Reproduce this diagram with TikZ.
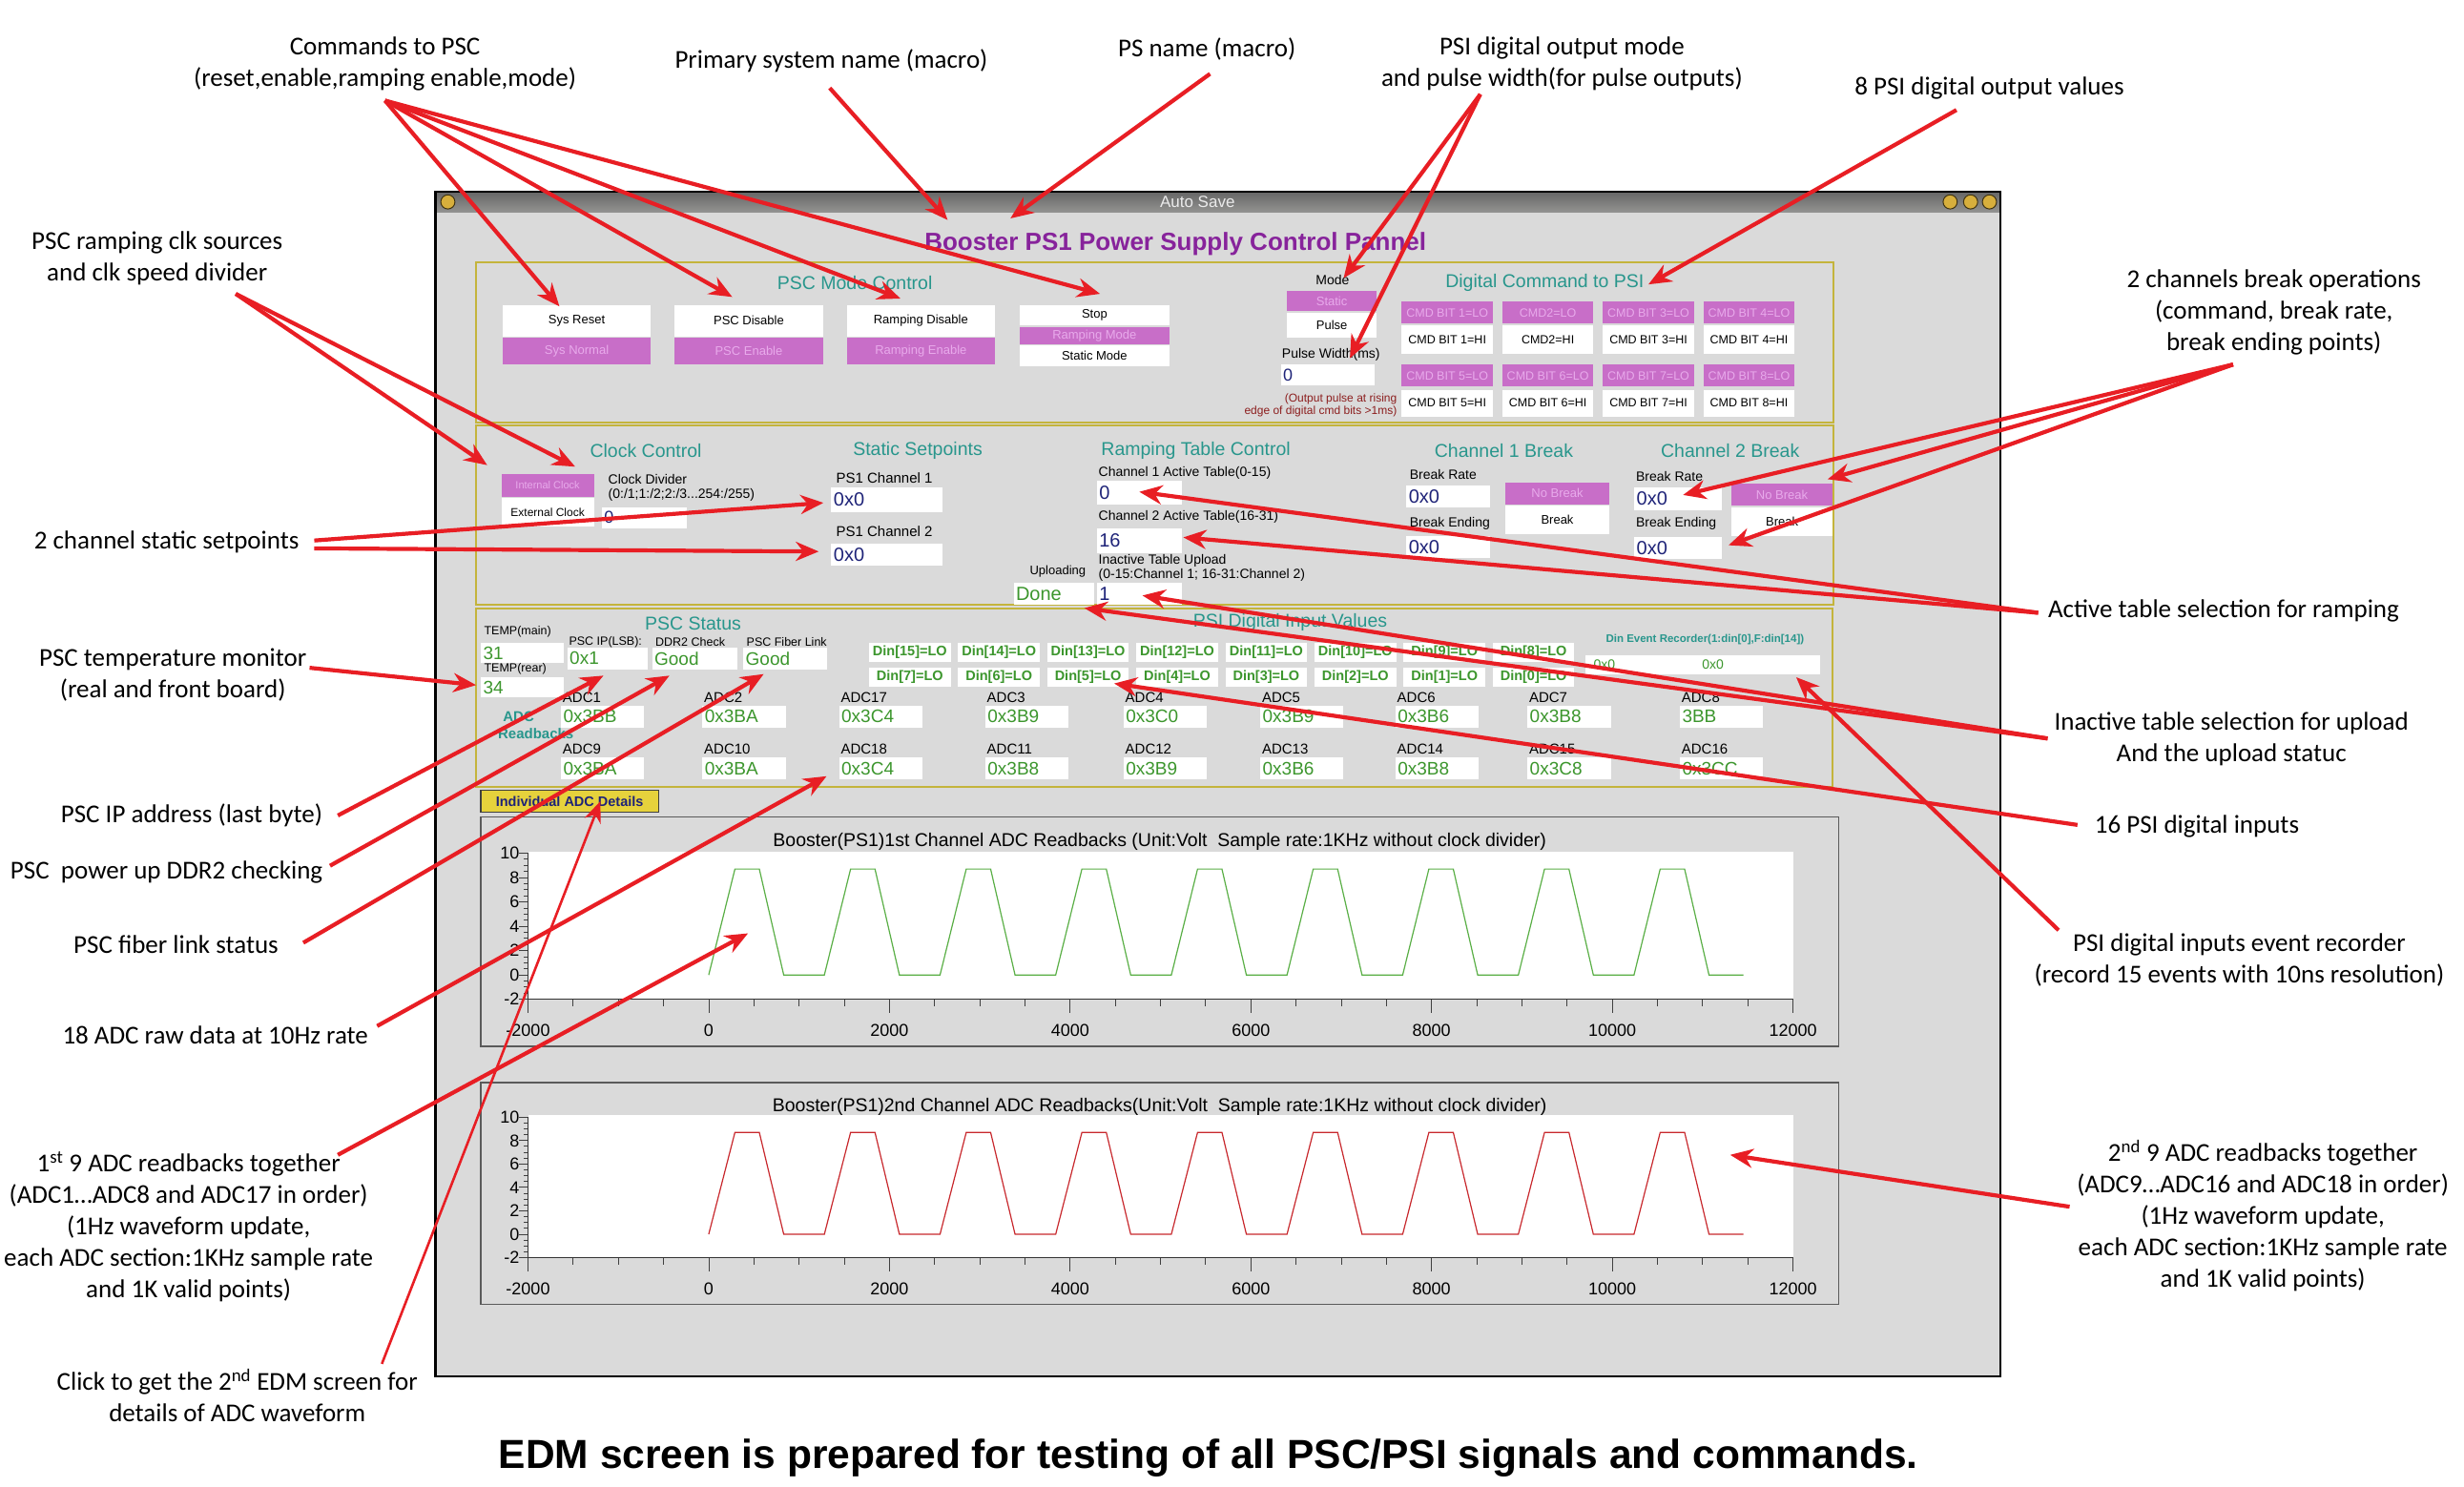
\documentclass[tikz,border=0pt]{standalone}
\usepackage{fontspec}
\setmainfont{Liberation Sans}
\newfontfamily\annfont{Carlito}
\usetikzlibrary{arrows.meta}

\definecolor{winbg}{RGB}{218,218,218}
\definecolor{titlegray}{RGB}{128,128,126}
\definecolor{sectyellow}{RGB}{196,180,60}
\definecolor{headteal}{RGB}{40,150,140}
\definecolor{btnpurple}{RGB}{200,110,200}
\definecolor{btntext}{RGB}{232,170,235}
\definecolor{navyval}{RGB}{30,35,120}
\definecolor{greenval}{RGB}{60,150,45}
\definecolor{titlepurple}{RGB}{135,35,155}
\definecolor{arrred}{RGB}{232,30,36}
\definecolor{notered}{RGB}{140,30,30}
\definecolor{btngold}{RGB}{215,175,60}
\definecolor{detailgold}{RGB}{230,210,60}
\definecolor{plotgreen}{RGB}{90,175,70}
\definecolor{plotred}{RGB}{200,40,45}
\definecolor{framec}{RGB}{90,90,90}

\newcommand\fsz[2]{\fontsize{#1}{#2}\selectfont}
\def\upx{1.6474}
% box given by its corners, text centred
\newcommand\ebox[7]{%
  \pgfmathsetmacro\bxw{(#4-#2)*\upx}%
  \pgfmathsetmacro\bxh{(#5-#3)*\upx}%
  \node[#6, minimum width=\bxw pt, minimum height=\bxh pt, inner sep=0pt]
    (#1) at ({(#2+#4)/2},{(#3+#5)/2}) {#7};}
% box given by its corners, text flush left
\newcommand\lbox[7]{%
  \pgfmathsetmacro\bxw{(#4-#2)*\upx}%
  \pgfmathsetmacro\bxh{(#5-#3)*\upx}%
  \pgfmathsetmacro\bxt{\bxw-5}%
  \node[#6, minimum width=\bxw pt, minimum height=\bxh pt, inner xsep=2.5pt,
    inner ysep=0pt, text width=\bxt pt, align=left]
    (#1) at ({(#2+#4)/2},{(#3+#5)/2}) {#7};}
% waveform chart: name, frame top, frame bottom, y of 0 V, px per volt, colour, title
\newcommand\adcplot[7]{%
  \draw[framec, line width=1.5pt, fill=winbg] (306,#2) rectangle (1170,#3);
  \node[plottitle] (#1title) at (738,#2+15.5) {#7};
  \pgfmathsetmacro\plotvs{#5*\upx}%
  \begin{scope}[shift={(451,#4)}, x=0.094726pt, y=\plotvs pt]
    \fill[white] (-2000,-2) rectangle (12000,10.15);
    \foreach \tk in {-2000,-1500,...,12000}
      \draw[black!75, line width=0.9pt] (\tk,-2) -- ++(0pt,-7pt);
    \foreach \tk [count=\n] in {-2000,0,...,12000} {
      \draw[black!75, line width=0.9pt] (\tk,-2) -- ++(0pt,-14pt);
      \node[axlbl, yshift=-33pt] (#1x\n) at (\tk,-2) {\tk};}
    \foreach \vv in {-2,-1.5,...,10}
      \draw[black!75, line width=0.9pt] (-2000,\vv) -- ++(-5pt,0pt);
    \foreach \vv [count=\n] in {-2,0,...,10} {
      \draw[black!75, line width=0.9pt] (-2000,\vv) -- ++(-10pt,0pt);
      \node[axlbl, anchor=east, xshift=-9pt] (#1y\n) at (-2000,\vv) {\vv};}
    \draw[black!80, line width=1.4pt] (-2000,10) -- (-2000,-2) -- (12000,-2);
    \draw[#6, line width=1.2pt] (0,0)
      \foreach \k in {0,...,8} {
        -- ({1280*\k},0) -- ({1280*\k+290},8.7) -- ({1280*\k+560},8.7)
        -- ({1280*\k+830},0) } -- (11450,0);
  \end{scope}}

\begin{document}
\begin{tikzpicture}[x=1.6474pt, y=-1.6474pt,
  lbl/.style={font=\fsz{14}{16}, inner sep=0pt, text=black},
  tiny/.style={font=\fsz{12.5}{14}, inner sep=0pt, text=black},
  head/.style={font=\fsz{19.5}{22}, text=headteal, inner sep=0pt},
  sect/.style={draw=sectyellow, line width=2pt},
  btnw/.style={fill=white, font=\fsz{13}{15}, text=black},
  btnp/.style={fill=btnpurple, font=\fsz{13}{15}, text=btntext},
  cmdw/.style={fill=white, font=\fsz{12.5}{14}, text=black},
  cmdp/.style={fill=btnpurple, font=\fsz{12.5}{14}, text=btntext},
  navybox/.style={fill=white, font=\fsz{20}{22}, text=navyval},
  greenbox/.style={fill=white, font=\fsz{19}{21}, text=greenval},
  dinbox/.style={fill=white, font=\bfseries\fsz{14.5}{16}, text=greenval},
  plottitle/.style={font=\fsz{19.5}{22}, inner sep=0pt},
  axlbl/.style={font=\fsz{18}{20}, inner sep=0pt},
  ann/.style={font=\annfont\fsz{27}{33}, align=center, inner sep=0pt},
  arr/.style={draw=arrred, line width=4.2pt, -{Stealth[length=24pt,width=20pt]}},
  arrthin/.style={draw=arrred, line width=2.6pt, -{Stealth[length=22pt,width=18pt]}},
  wbtn/.style={fill=btngold, draw=black!70!btngold, line width=1pt}]

\useasboundingbox (0,0) rectangle (1568,946);
\fill[white] (0,0) rectangle (1568,946);

% ---------- EDM window ----------
\fill[winbg] (277,122) rectangle (1273,876);
\shade[top color=black!60, bottom color=titlegray!85] (277,122) rectangle (1273,135);
\node[font=\fsz{17}{19}, text=white!92!black, inner sep=0pt] (autosave) at (762,128.5) {Auto Save};
\filldraw[wbtn] (285,128.5) circle (4.5);
\filldraw[wbtn] (1241,128.5) circle (4.5);
\filldraw[wbtn] (1254,128.5) circle (4.5);
\filldraw[wbtn] (1266,128.5) circle (4.5);
\draw[black, line width=2.5pt] (277,122) rectangle (1273,876);

\node[font=\bfseries\fsz{26}{30}, text=titlepurple, inner sep=0pt] (title) at (748,155)
  {Booster PS1 Power Supply Control Pannel};

% ---------- mode control and digital commands ----------
\draw[sect] (303,167) rectangle (1167,269);
\node[head] (hMode) at (544,180) {PSC Mode Control};
\ebox{sysreset}{320}{194}{414}{214}{btnw}{Sys Reset}
\ebox{sysnormal}{320}{215}{414}{232}{btnp}{Sys Normal}
\ebox{pscdis}{429}{194}{524}{214}{btnw}{PSC Disable}
\ebox{pscen}{429}{215}{524}{232}{btnp}{PSC Enable}
\ebox{rampdis}{539}{194}{633}{214}{btnw}{Ramping Disable}
\ebox{rampen}{539}{215}{633}{232}{btnp}{Ramping Enable}
\ebox{stop}{649}{194}{744}{207}{btnw}{Stop}
\ebox{rampmode}{649}{208}{744}{219}{btnp}{Ramping Mode}
\ebox{staticmode}{649}{220}{744}{233}{btnw}{Static Mode}

\node[lbl] (lMode) at (848,178) {Mode};
\ebox{mstatic}{819}{185}{876}{198}{btnp}{Static}
\ebox{mpulse}{819}{199}{876}{215}{btnw}{Pulse}
\node[lbl] (lPW) at (847,226) {Pulse Width(ms)};
\lbox{pwval}{815}{232}{875}{245}{navybox, font=\fsz{18}{20}}{0}
\node[font=\fsz{12}{14}, text=notered, inner sep=0pt, anchor=east] (note1) at (889,254) {(Output pulse at rising};
\node[font=\fsz{12}{14}, text=notered, inner sep=0pt, anchor=east] (note2) at (889,262) {edge of digital cmd bits >1ms)};

\node[head] (hCmd) at (983,180) {Digital Command to PSI};
\foreach \xl/\tl/\th/\bl/\bh [count=\n] in
  {892/CMD BIT 1=LO/CMD BIT 1=HI/CMD BIT 5=LO/CMD BIT 5=HI,
   956/CMD2=LO/CMD2=HI/CMD BIT 6=LO/CMD BIT 6=HI,
   1020/CMD BIT 3=LO/CMD BIT 3=HI/CMD BIT 7=LO/CMD BIT 7=HI,
   1084/CMD BIT 4=LO/CMD BIT 4=HI/CMD BIT 8=LO/CMD BIT 8=HI} {
  \ebox{cmdlo\n}{\xl}{192}{\xl+58}{206}{cmdp}{\tl}
  \ebox{cmdhi\n}{\xl}{207}{\xl+58}{225}{cmdw}{\th}
  \ebox{cmdlob\n}{\xl}{232}{\xl+58}{246}{cmdp}{\bl}
  \ebox{cmdhib\n}{\xl}{248}{\xl+58}{265}{cmdw}{\bh}
}

% ---------- clock, setpoints, ramping tables, breaks ----------
\draw[sect] (303,271) rectangle (1167,385);
\node[head] (hClk) at (411,287) {Clock Control};
\ebox{intclk}{319}{302}{378}{316}{btnp, font=\fsz{11}{13}}{Internal Clock}
\ebox{extclk}{319}{317}{378}{335}{btnw, font=\fsz{12}{14}}{External Clock}
\node[lbl, anchor=west] (lDiv) at (387,305) {Clock Divider};
\node[lbl, anchor=west] (lDiv2) at (387,315) {(0:/1;1:/2;2:/3...254:/255)};
\lbox{divval}{383}{323}{437}{336}{navybox, font=\fsz{18}{20}}{0}

\node[head] (hStat) at (584,287) {Static Setpoints};
\node[lbl, anchor=west, font=\fsz{15}{17}] (lCh1) at (532,304) {PS1 Channel 1};
\lbox{sp1}{529}{310}{600}{326}{navybox}{0x0}
\node[lbl, anchor=west, font=\fsz{15}{17}] (lCh2) at (532,338) {PS1 Channel 2};
\lbox{sp2}{529}{346}{600}{360}{navybox}{0x0}

\node[head] (hRamp) at (761,287) {Ramping Table Control};
\node[lbl, anchor=west] (lAct1) at (699,301) {Channel 1 Active Table(0-15)};
\lbox{act1}{698}{306}{752}{321}{navybox}{0}
\node[lbl, anchor=west] (lAct2) at (699,329) {Channel 2 Active Table(16-31)};
\lbox{act2}{698}{336}{752}{352}{navybox}{16}
\node[lbl, anchor=west] (lInact) at (699,357) {Inactive Table Upload};
\node[lbl, anchor=west] (lInact2) at (699,366) {(0-15:Channel 1; 16-31:Channel 2)};
\lbox{inact}{698}{371}{752}{385}{navybox}{1}
\node[lbl, anchor=east, font=\fsz{13}{15}] (lUpl) at (691,364) {Uploading};
\lbox{done}{645}{371}{696}{385}{greenbox, font=\fsz{20}{22}}{Done}

\node[head] (hBrk1) at (957,287) {Channel 1 Break};
\node[lbl, anchor=west] (lBr1) at (897,302) {Break Rate};
\lbox{br1}{895}{309}{948}{323}{navybox}{0x0}
\ebox{nobrk1}{958}{307}{1024}{321}{btnp}{No Break}
\ebox{brk1}{958}{322}{1024}{340}{btnw}{Break}
\node[lbl, anchor=west] (lBe1) at (897,333) {Break Ending};
\lbox{be1}{895}{341}{948}{355}{navybox}{0x0}

\node[head] (hBrk2) at (1101,287) {Channel 2 Break};
\node[lbl, anchor=west] (lBr2) at (1041,303) {Break Rate};
\lbox{br2}{1040}{310}{1096}{325}{navybox}{0x0}
\ebox{nobrk2}{1102}{308}{1166}{322}{btnp}{No Break}
\ebox{brk2}{1102}{323}{1166}{341}{btnw}{Break}
\node[lbl, anchor=west] (lBe2) at (1041,333) {Break Ending};
\lbox{be2}{1040}{342}{1096}{356}{navybox}{0x0}

% ---------- status, digital inputs, ADC readbacks ----------
\draw[sect] (303,387) rectangle (1166,501);
\node[head] (hPsc) at (441,397) {PSC Status};
\node[tiny, anchor=west] (lT1) at (308,402) {TEMP(main)};
\lbox{temp1}{306}{409}{359}{422}{greenbox}{31}
\node[tiny, anchor=west] (lT2) at (308,425.5) {TEMP(rear)};
\lbox{temp2}{306}{431}{359}{444}{greenbox}{34}
\node[tiny, anchor=west] (lIP) at (362,408.5) {PSC IP(LSB):};
\lbox{ipval}{361}{412}{412}{426}{greenbox}{0x1}
\node[tiny, anchor=west] (lDDR) at (417,408.5) {DDR2 Check};
\lbox{ddrval}{415}{412}{469}{426}{greenbox}{Good}
\node[tiny, anchor=west] (lFib) at (475,408.5) {PSC Fiber Link};
\lbox{fibval}{473}{412}{526}{426}{greenbox}{Good}

\node[head] (hDin) at (821,396) {PSI Digital Input Values};
\foreach \i [evaluate=\i as \xl using 553+56.7*\i,
             evaluate=\i as \hb using int(15-\i),
             evaluate=\i as \lb using int(7-\i)] in {0,...,7} {
  \ebox{dinh\i}{\xl}{409}{\xl+52}{421}{dinbox}{Din[\hb]=LO}
  \ebox{dinl\i}{\xl}{425}{\xl+52}{437}{dinbox}{Din[\lb]=LO}
}
\node[font=\bfseries\fsz{11.5}{13}, text=headteal, inner sep=0pt] (lEv) at (1085,407)
  {Din Event Recorder(1:din[0],F:din[14])};
\ebox{evrec}{1009}{417}{1158}{429}{fill=white}{}
\node[font=\fsz{14}{16}, text=greenval, inner sep=0pt, anchor=west] (ev1) at (1014,423) {0x0};
\node[font=\fsz{14}{16}, text=greenval, inner sep=0pt] (ev2) at (1090,423) {0x0};

\node[font=\bfseries\fsz{15}{17}, text=headteal, inner sep=0pt] (lAdc) at (330,456) {ADC};
\node[font=\bfseries\fsz{15}{17}, text=headteal, inner sep=0pt] (lRb) at (341,467) {Readbacks};
\foreach \xl/\la/\va/\lb/\vb [count=\n] in
  {357/ADC1/0x3BB/ADC9/0x3BA, 447/ADC2/0x3BA/ADC10/0x3BA,
   534/ADC17/0x3C4/ADC18/0x3C4, 627/ADC3/0x3B9/ADC11/0x3B8,
   715/ADC4/0x3C0/ADC12/0x3B9, 802/ADC5/0x3B9/ADC13/0x3B6,
   888/ADC6/0x3B6/ADC14/0x3B8, 972/ADC7/0x3B8/ADC15/0x3C8,
   1069/ADC8/3BB/ADC16/0x3CC} {
  \node[lbl, anchor=west, font=\fsz{15}{17}] (adcla\n) at (\xl+1,444) {\la};
  \lbox{adcva\n}{\xl}{449}{\xl+53}{463}{greenbox}{\va}
  \node[lbl, anchor=west, font=\fsz{15}{17}] (adclb\n) at (\xl+1,477) {\lb};
  \lbox{adcvb\n}{\xl}{482}{\xl+53}{496}{greenbox}{\vb}
}

\ebox{details}{306}{503}{419}{517}{fill=detailgold, draw=black!75, line width=1.2pt,
  font=\bfseries\fsz{14.5}{16}, text=navyval}{Individual ADC Details}

% ---------- waveform charts ----------
\adcplot{pa}{520}{666}{620.5}{7.75}{plotgreen}{Booster(PS1)1st Channel ADC Readbacks (Unit:Volt\ \ Sample rate:1KHz without clock divider)}
\adcplot{pb}{689}{830}{785.5}{7.45}{plotred}{Booster(PS1)2nd Channel ADC Readbacks(Unit:Volt\ \ Sample rate:1KHz without clock divider)}

% ---------- callouts ----------
\node[ann] (aCmd) at (245,40.5) {Commands to PSC\\(reset,enable,ramping enable,mode)};
\node[ann] (aPrim) at (529,39) {Primary system name (macro)};
\node[ann] (aPS) at (768,31) {PS name (macro)};
\node[ann] (aPSI) at (994,40.5) {PSI digital output mode\\and pulse width(for pulse outputs)};
\node[ann] (a8) at (1266,56) {8 PSI digital output values};
\node[ann] (aClk) at (100,164.5) {PSC ramping clk sources\\and clk speed divider};
\node[ann] (aBrk) at (1447,199) {2 channels break operations\\(command, break rate,\\break ending points)};
\node[ann] (aStat) at (106,345) {2 channel static setpoints};
\node[ann] (aAct) at (1415,389) {Active table selection for ramping};
\node[ann] (aTemp) at (110,429.5) {PSC temperature monitor\\(real and front board)};
\node[ann] (aInact) at (1420,470.5) {Inactive table selection for upload\\And the upload statuc};
\node[ann] (aIP) at (122,519) {PSC IP address (last byte)};
\node[ann] (a16) at (1398,526) {16 PSI digital inputs};
\node[ann] (aDDR) at (106,555) {PSC\ \ power up DDR2 checking};
\node[ann] (aFib) at (112,601) {PSC fiber link status};
\node[ann] (aEv) at (1425,611) {PSI digital inputs event recorder\\(record 15 events with 10ns resolution)};
\node[ann] (a18) at (137,659) {18 ADC raw data at 10Hz rate};
\node[ann] (a1st) at (120,781) {1\textsuperscript{st} 9 ADC readbacks together\\(ADC1…ADC8 and ADC17 in order)\\(1Hz waveform update,\\each ADC section:1KHz sample rate\\and 1K valid points)};
\node[ann] (aClick) at (151,888) {Click to get the 2\textsuperscript{nd} EDM screen for\\details of ADC waveform};
\node[ann] (a2nd) at (1440,773.5) {2\textsuperscript{nd} 9 ADC readbacks together\\(ADC9…ADC16 and ADC18 in order)\\(1Hz waveform update,\\each ADC section:1KHz sample rate\\and 1K valid points)};
\node[font=\bfseries\fsz{42.5}{50}, inner sep=0pt] (caption) at (769,928)
  {EDM screen is prepared for testing of all PSC/PSI signals and commands.};

% arrow start and end points
\coordinate (sCmd) at (245,64);
\coordinate (sPrim) at (528,56);
\coordinate (sPS) at (770,47);
\coordinate (sPSI) at (942,60);
\coordinate (s8) at (1245,70);
\coordinate (sClk) at (150,187);
\coordinate (sStatA) at (200,344);
\coordinate (sStatB) at (200,349);
\coordinate (sTemp) at (197,425);
\coordinate (sIP) at (215,519);
\coordinate (sDDR) at (210,551);
\coordinate (sFib) at (193,600);
\coordinate (s18) at (240,653);
\coordinate (s1st) at (215,735);
\coordinate (sClick) at (243,868);
\coordinate (s2nd) at (1317,768);
\coordinate (sBrk) at (1421,232);
\coordinate (sAct) at (1297,390);
\coordinate (sInact) at (1303,470);
\coordinate (s16) at (1322,525);
\coordinate (sEv) at (1310,592);

\coordinate (tSysReset) at (356,195);
\coordinate (tPscDis) at (466,189);
\coordinate (tRampDis) at (573,190);
\coordinate (tStop) at (700,187);
\coordinate (tPrim) at (603,140);
\coordinate (tPS) at (643,139);
\coordinate (tMode) at (855,177);
\coordinate (tPW) at (859,228);
\coordinate (t8) at (1049,181);
\coordinate (tClkA) at (310,296);
\coordinate (tClkB) at (366,297);
\coordinate (tSp1) at (524,320);
\coordinate (tSp2) at (521,351);
\coordinate (tTemp) at (303,436);
\coordinate (tIP) at (384,430);
\coordinate (tDDR) at (426,430);
\coordinate (tFib) at (486,429);
\coordinate (t18) at (526,494);
\coordinate (t1st) at (476,594);
\coordinate (tClick) at (382,510);
\coordinate (t2nd) at (1101,735);
\coordinate (tNoBrk) at (1163,305);
\coordinate (tBr2) at (1071,315);
\coordinate (tBe2) at (1100,347);
\coordinate (tAct1) at (725,313);
\coordinate (tAct2) at (753,342);
\coordinate (tInact) at (727,379);
\coordinate (tDone) at (690,387);
\coordinate (t16) at (709,435);
\coordinate (tEv) at (1143,431);

\draw[arr] (sCmd) -- (tSysReset);
\draw[arr] (sCmd) -- (tPscDis);
\draw[arr] (sCmd) -- (tRampDis);
\draw[arr] (sCmd) -- (tStop);
\draw[arr] (sPrim) -- (tPrim);
\draw[arr] (sPS) -- (tPS);
\draw[arr] (sPSI) -- (tMode);
\draw[arr] (sPSI) -- (tPW);
\draw[arr] (s8) -- (t8);
\draw[arr] (sClk) -- (tClkA);
\draw[arr] (sClk) -- (tClkB);
\draw[arr] (sStatA) -- (tSp1);
\draw[arr] (sStatB) -- (tSp2);
\draw[arr] (sTemp) -- (tTemp);
\draw[arr] (sIP) -- (tIP);
\draw[arr] (sDDR) -- (tDDR);
\draw[arr] (sFib) -- (tFib);
\draw[arr] (s18) -- (t18);
\draw[arr] (s1st) -- (t1st);
\draw[arrthin] (sClick) -- (tClick);
\draw[arr] (s2nd) -- (t2nd);
\draw[arr] (sBrk) -- (tNoBrk);
\draw[arr] (sBrk) -- (tBr2);
\draw[arr] (sBrk) -- (tBe2);
\draw[arr] (sAct) -- (tAct1);
\draw[arr] (sAct) -- (tAct2);
\draw[arr] (sInact) -- (tInact);
\draw[arr] (sInact) -- (tDone);
\draw[arr] (s16) -- (t16);
\draw[arr] (sEv) -- (tEv);
\end{tikzpicture}
\end{document}
